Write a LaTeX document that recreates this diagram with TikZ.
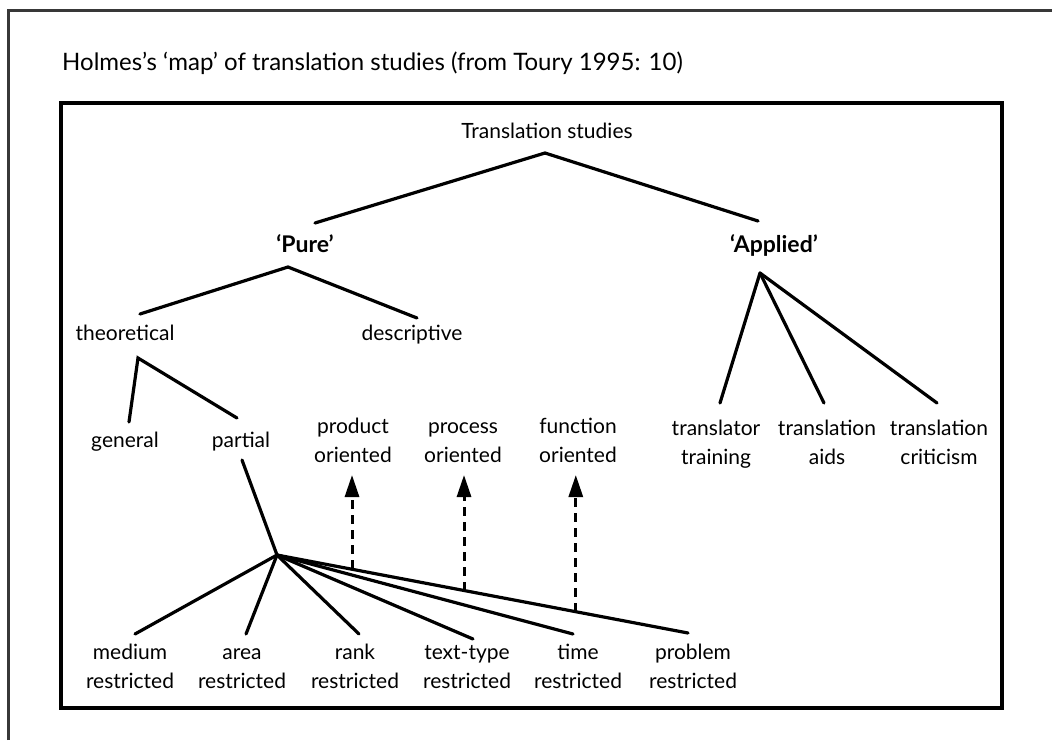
\documentclass[tikz,border=0pt]{standalone}
\usepackage{fontspec}
\setmainfont{Lato}
\usetikzlibrary{arrows.meta,calc}
\newcommand{\twolines}[2]{\strut #1\\\strut #2}
\begin{document}
\begin{tikzpicture}[x=1pt,y=-1pt,
  lbl/.style={font=\fontsize{21}{29}\selectfont, align=center, inner sep=0pt},
  boldlbl/.style={inner sep=0pt, font=\fontsize{23}{29}\selectfont\bfseries},
  branch/.style={line width=3.2pt, line cap=round},
  dasharrow/.style={line width=3pt, dash pattern=on 9pt off 6pt, -{Triangle[length=22pt,width=14pt]}},
  framebox/.style={line width=3.2pt},
  outerframe/.style={line width=3pt, draw=black!78}]
\useasboundingbox (0,0) rectangle (1052,740);
\fill[white] (0,0) rectangle (1052,740);
% outer frame (partially visible)
\coordinate (of1) at (8,740);
\coordinate (of2) at (8,10);
\coordinate (of3) at (1052,10);
\draw[outerframe] (of1) -- (of2) -- (of3);
% title
\node[anchor=base west, inner sep=0pt, font=\fontsize{24}{29}\selectfont] (title) at (62,70)
  {Holmes’s ‘map’ of translation studies (from Toury 1995: 10)};
% inner box
\coordinate (box1) at (61,103);
\coordinate (box2) at (1002,708);
\draw[framebox] (box1) rectangle (box2);

% labels (single line: center = baseline - 5.8; two lines: center = first baseline + 8.7)
\node[lbl] (ts) at (547,132.2) {\strut Translation studies};
\node[boldlbl, anchor=base] (pure) at (305,252) {‘Pure’};
\node[boldlbl, anchor=base] (applied) at (774,252) {‘Applied’};
\node[lbl] (theo) at (125,334.2) {\strut theoretical};
\node[lbl] (desc) at (412,334.2) {\strut descriptive};
\node[lbl] (general) at (125,441.2) {\strut general};
\node[lbl] (partial) at (241,441.2) {\strut partial};
\node[lbl] (prod) at (353,441.7) {\twolines{product}{oriented}};
\node[lbl] (proc) at (463,441.7) {\twolines{process}{oriented}};
\node[lbl] (func) at (578,441.7) {\twolines{function}{oriented}};
\node[lbl] (training) at (716,443.7) {\twolines{translator}{training}};
\node[lbl] (aids) at (827,443.7) {\twolines{translation}{aids}};
\node[lbl] (criticism) at (939,443.7) {\twolines{translation}{criticism}};
\node[lbl] (medium) at (130,667.7) {\twolines{medium}{restricted}};
\node[lbl] (area) at (242,667.7) {\twolines{area}{restricted}};
\node[lbl] (rank) at (355,667.7) {\twolines{rank}{restricted}};
\node[lbl] (texttype) at (467,667.7) {\twolines{text-type}{restricted}};
\node[lbl] (time) at (578,667.7) {\twolines{time}{restricted}};
\node[lbl] (problem) at (693,667.7) {\twolines{problem}{restricted}};

% branch points
\coordinate (ts-v) at (545,153);
\coordinate (pure-top) at (315,223);
\coordinate (applied-top) at (758,221);
\coordinate (pure-v) at (288,267);
\coordinate (theo-top) at (140,314);
\coordinate (desc-top) at (417,318);
\coordinate (theo-v) at (138,358);
\coordinate (general-top) at (129,422);
\coordinate (partial-top) at (237,418);
\coordinate (partial-bot) at (242,460);
\coordinate (hub) at (277,555);
\coordinate (medium-top) at (135,634);
\coordinate (area-top) at (246,634);
\coordinate (rank-top) at (359,634);
\coordinate (texttype-top) at (473,639);
\coordinate (time-top) at (573,634);
\coordinate (problem-top) at (688,633);
\coordinate (applied-v) at (760,273);
\coordinate (training-top) at (720,403);
\coordinate (aids-top) at (824,403);
\coordinate (criticism-top) at (937,403);
% arrow ends
\coordinate (prod-base) at ($(hub)!0.1825!(problem-top)$);
\coordinate (prod-tip) at (352,475);
\coordinate (proc-base) at ($(hub)!0.455!(problem-top)$);
\coordinate (proc-tip) at (463,475);
\coordinate (func-base) at ($(hub)!0.727!(problem-top)$);
\coordinate (func-tip) at (576,475);

% tree
\draw[branch] (pure-top) -- (ts-v) -- (applied-top);
\draw[branch] (theo-top) -- (pure-v) -- (desc-top);
\draw[branch] (general-top) -- (theo-v) -- (partial-top);
\draw[branch] (partial-bot) -- (hub);
\foreach \t in {medium,area,rank,texttype,time,problem}
  \draw[branch] (hub) -- (\t-top);
\foreach \t in {training,aids,criticism}
  \draw[branch] (applied-v) -- (\t-top);

% dashed arrows
\draw[dasharrow] (prod-base) -- (prod-base |- prod-tip);
\draw[dasharrow] (proc-base) -- (proc-base |- proc-tip);
\draw[dasharrow] (func-base) -- (func-base |- func-tip);
\end{tikzpicture}
\end{document}
